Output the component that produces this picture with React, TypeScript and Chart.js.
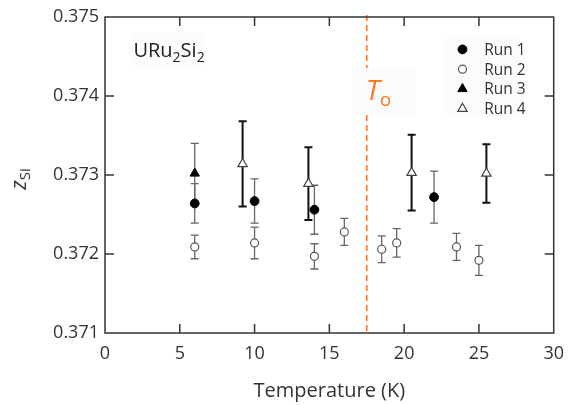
import React, { useEffect, useRef } from 'react';
import { Chart, registerables } from 'chart.js';
import { drawPoint } from 'chart.js/helpers';

Chart.register(...registerables);

const FONT = '"Open Sans", "DejaVu Sans", sans-serif';
const ORANGE = '#F47A2E';

const xTicks = [0, 5, 10, 15, 20, 25, 30];
const yTicks = [0.371, 0.372, 0.373, 0.374, 0.375];
const xTitle = 'Temperature (K)';
const transitionT = 17.5;

const seriesNames = ['Run 1', 'Run 2', 'Run 3', 'Run 4'];

const run1T = [6, 10, 14, 22];
const run1Z = [0.37264, 0.37267, 0.37256, 0.37272];
const run1Err = [0.00025, 0.00028, 0.00031, 0.00033];

const run2T = [6, 10, 14, 16, 18.5, 19.5, 23.5, 25];
const run2Z = [0.37209, 0.37214, 0.37197, 0.37228, 0.37206, 0.37214, 0.37209, 0.37192];
const run2Err = [0.00015, 0.0002, 0.00016, 0.00017, 0.00017, 0.00018, 0.00017, 0.00019];

const run3T = [6];
const run3Z = [0.37302];
const run3Err = [0.00038];

const run4T = [9.2, 13.6, 20.5, 25.5];
const run4Z = [0.37314, 0.37289, 0.37303, 0.37302];
const run4Err = [0.00054, 0.00046, 0.00048, 0.00037];

const toPoints = (xs: number[], ys: number[]) => xs.map((x, i) => ({ x, y: ys[i] }));

const overlayPlugin = {
  id: 'overlay',
  beforeDatasetsDraw(chart: any) {
    const { ctx, chartArea: ca, scales } = chart;
    const x = scales.x;
    const y = scales.y;
    ctx.save();

    // transition line
    const tx = x.getPixelForValue(transitionT);
    ctx.strokeStyle = ORANGE;
    ctx.lineWidth = 1.6;
    ctx.setLineDash([6, 4]);
    ctx.beginPath();
    ctx.moveTo(tx, ca.top - 2);
    ctx.lineTo(tx, ca.bottom);
    ctx.stroke();
    ctx.setLineDash([]);

    // T_o label
    const ty = y.getPixelForValue(0.37395);
    ctx.fillStyle = '#fbfbfb';
    ctx.fillRect(tx - 15, ty - 32, 64, 47);
    ctx.fillStyle = ORANGE;
    ctx.textBaseline = 'alphabetic';
    ctx.textAlign = 'left';
    ctx.font = `italic 28px ${FONT}`;
    ctx.fillText('T', tx - 1, ty);
    const tw = ctx.measureText('T').width;
    ctx.font = `19px ${FONT}`;
    ctx.fillText('o', tx - 1 + tw, ty + 6);

    // compound label
    const cx = x.getPixelForValue(1.9);
    const cy = y.getPixelForValue(0.3745);
    ctx.fillStyle = '#fcfcfc';
    ctx.fillRect(cx - 2, cy - 24, 74, 34);
    ctx.fillStyle = '#222';
    let px = cx;
    const parts: [string, boolean][] = [['URu', false], ['2', true], ['Si', false], ['2', true]];
    parts.forEach(([t, sub]) => {
      ctx.font = sub ? `14px ${FONT}` : `20px ${FONT}`;
      ctx.fillText(t, px, sub ? cy + 5 : cy);
      px += ctx.measureText(t).width;
    });

    // legend
    const lx = x.getPixelForValue(23.9);
    const ltx = x.getPixelForValue(25.35);
    const rowVals = [0.37459, 0.37434, 0.37409, 0.37384];
    ctx.fillStyle = '#fcfcfc';
    ctx.fillRect(lx - 20, y.getPixelForValue(0.37459) - 12, 79, 80);
    chart.data.datasets.forEach((ds: any, i: number) => {
      const ry = y.getPixelForValue(rowVals[i]);
      ctx.fillStyle = ds.pointBackgroundColor;
      ctx.strokeStyle = ds.pointBorderColor;
      ctx.lineWidth = ds.pointBorderWidth;
      drawPoint(ctx, { pointStyle: ds.pointStyle, radius: ds.pointRadius, borderWidth: ds.pointBorderWidth, rotation: 0 }, lx, ry);
      ctx.fillStyle = '#333';
      ctx.font = `15.5px ${FONT}`;
      ctx.textBaseline = 'middle';
      ctx.fillText(seriesNames[i], ltx, ry + 1);
    });

    // error bars
    chart.data.datasets.forEach((ds: any) => {
      ctx.strokeStyle = ds.errorColor;
      ctx.lineWidth = ds.errorWidth;
      ds.data.forEach((pt: any, j: number) => {
        const e = ds.errors[j];
        const ex = x.getPixelForValue(pt.x);
        const top = y.getPixelForValue(pt.y + e);
        const bot = y.getPixelForValue(pt.y - e);
        ctx.beginPath();
        ctx.moveTo(ex, top);
        ctx.lineTo(ex, bot);
        ctx.moveTo(ex - 4, top);
        ctx.lineTo(ex + 4, top);
        ctx.moveTo(ex - 4, bot);
        ctx.lineTo(ex + 4, bot);
        ctx.stroke();
      });
    });

    // y title  z_Si
    ctx.save();
    const yc = (ca.top + ca.bottom) / 2 + 4;
    ctx.translate(26, yc);
    ctx.rotate(-Math.PI / 2);
    ctx.fillStyle = '#333';
    ctx.textBaseline = 'alphabetic';
    ctx.font = `italic 21px ${FONT}`;
    const zw = ctx.measureText('z').width;
    ctx.font = `15px ${FONT}`;
    const sw = ctx.measureText('Si').width;
    const start = -(zw + sw) / 2;
    ctx.font = `italic 21px ${FONT}`;
    ctx.fillText('z', start, 0);
    ctx.font = `15px ${FONT}`;
    ctx.fillText('Si', start + zw, 4);
    ctx.restore();

    ctx.restore();
  },
  afterDatasetsDraw(chart: any) {
    const { ctx, chartArea: ca, scales } = chart;
    const x = scales.x;
    const y = scales.y;
    ctx.save();
    ctx.strokeStyle = '#333';
    ctx.lineWidth = 1.5;
    ctx.strokeRect(ca.left, ca.top, ca.right - ca.left, ca.bottom - ca.top);
    const L = 9;
    ctx.beginPath();
    xTicks.slice(1, -1).forEach((v) => {
      const p = x.getPixelForValue(v);
      ctx.moveTo(p, ca.bottom);
      ctx.lineTo(p, ca.bottom - L);
      ctx.moveTo(p, ca.top);
      ctx.lineTo(p, ca.top + L);
    });
    yTicks.slice(1, -1).forEach((v) => {
      const p = y.getPixelForValue(v);
      ctx.moveTo(ca.left, p);
      ctx.lineTo(ca.left + L, p);
      ctx.moveTo(ca.right, p);
      ctx.lineTo(ca.right - L, p);
    });
    ctx.stroke();
    ctx.restore();
  },
};

export default function App() {
  const ref = useRef<HTMLCanvasElement>(null);
  useEffect(() => {
    if (!ref.current) return;
    const chart = new Chart(ref.current, {
      type: 'scatter',
      data: {
        datasets: [
          {
            label: seriesNames[0],
            data: toPoints(run1T, run1Z),
            errors: run1Err,
            errorColor: '#666',
            errorWidth: 1.3,
            pointStyle: 'circle',
            pointRadius: 4.4,
            pointBackgroundColor: '#000',
            pointBorderColor: '#000',
            pointBorderWidth: 1,
          },
          {
            label: seriesNames[1],
            data: toPoints(run2T, run2Z),
            errors: run2Err,
            errorColor: '#666',
            errorWidth: 1.3,
            pointStyle: 'circle',
            pointRadius: 4,
            pointBackgroundColor: '#fff',
            pointBorderColor: '#555',
            pointBorderWidth: 1.2,
          },
          {
            label: seriesNames[2],
            data: toPoints(run3T, run3Z),
            errors: run3Err,
            errorColor: '#666',
            errorWidth: 1.3,
            pointStyle: 'triangle',
            pointRadius: 5.4,
            pointBackgroundColor: '#000',
            pointBorderColor: '#000',
            pointBorderWidth: 1,
          },
          {
            label: seriesNames[3],
            data: toPoints(run4T, run4Z),
            errors: run4Err,
            errorColor: '#111',
            errorWidth: 2,
            pointStyle: 'triangle',
            pointRadius: 5.4,
            pointBackgroundColor: '#fff',
            pointBorderColor: '#444',
            pointBorderWidth: 1.2,
          },
        ] as any,
      },
      options: {
        animation: false,
        responsive: false,
        layout: { padding: { left: 0, top: 17, right: 13, bottom: 0 } },
        plugins: { legend: { display: false }, tooltip: { enabled: false } },
        scales: {
          x: {
            type: 'linear',
            min: 0,
            max: 30,
            grid: { display: false, drawTicks: false },
            border: { display: false },
            afterBuildTicks: (s: any) => {
              s.ticks = xTicks.map((v) => ({ value: v }));
            },
            afterFit: (s: any) => {
              s.height = 72;
            },
            ticks: {
              font: { family: FONT, size: 18 },
              color: '#333',
              padding: 10,
              maxRotation: 0,
              callback: (v: any) => String(v),
            },
            title: {
              display: true,
              text: xTitle,
              font: { family: FONT, size: 20 },
              color: '#333',
              padding: { top: 0, bottom: 2 },
            },
          },
          y: {
            type: 'linear',
            min: 0.371,
            max: 0.375,
            grid: { display: false, drawTicks: false },
            border: { display: false },
            afterBuildTicks: (s: any) => {
              s.ticks = yTicks.map((v) => ({ value: v }));
            },
            afterFit: (s: any) => {
              s.width = 105;
            },
            ticks: {
              font: { family: FONT, size: 18 },
              color: '#333',
              padding: 6,
              callback: (v: any) => Number(v).toFixed(3),
            },
          },
        },
      } as any,
      plugins: [overlayPlugin],
    });
    return () => chart.destroy();
  }, []);
  return (
    <div style={{ position: 'absolute', left: 0, top: 0, width: 574, height: 405, background: '#fff' }}>
      <canvas ref={ref} width={574} height={405} />
    </div>
  );
}
